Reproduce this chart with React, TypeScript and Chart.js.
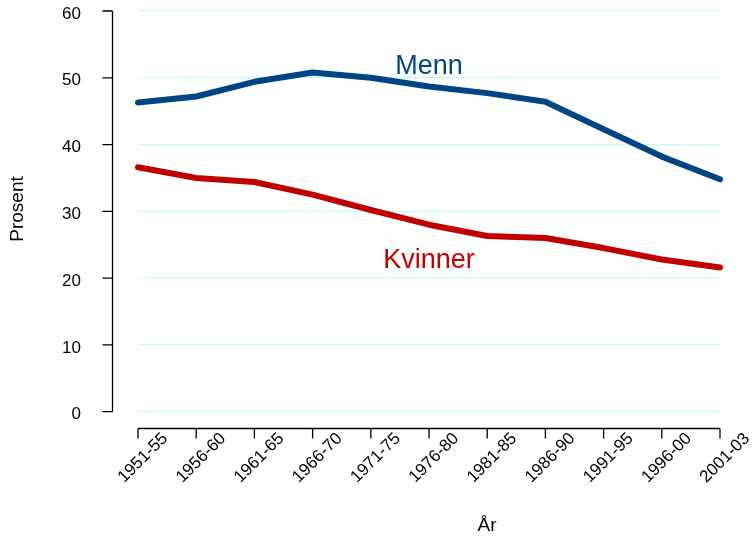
import React, { useEffect, useRef } from "react";
import { Chart, registerables } from "chart.js";

Chart.register(...registerables);

const categories = [
  "1951-55", "1956-60", "1961-65", "1966-70", "1971-75", "1976-80",
  "1981-85", "1986-90", "1991-95", "1996-00", "2001-03",
];
const menn = [46.3, 47.2, 49.4, 50.8, 50.0, 48.7, 47.7, 46.4, 42.3, 38.2, 34.8];
const kvinner = [36.6, 35.0, 34.4, 32.5, 30.2, 28.0, 26.3, 26.0, 24.5, 22.8, 21.6];
const yTicks = [0, 10, 20, 30, 40, 50, 60];
const seriesLabels = ["Menn", "Kvinner"];
const labelAnchors = [
  { index: 5, value: 50.5 },
  { index: 5, value: 21.5 },
];

const FONT = '"Liberation Sans", Arial, Helvetica, sans-serif';
const BLUE = "#004484";
const RED = "#c00000";

const axesPlugin = {
  id: "rAxes",
  afterDraw(chart: any) {
    const { ctx, chartArea, scales } = chart;
    const xs = scales.x;
    const ys = scales.y;
    ctx.save();
    ctx.strokeStyle = "#000";
    ctx.lineWidth = 1.3;
    // y axis spine offset to the left
    const ax = Math.round(chartArea.left - 26) + 0.5;
    const y0 = ys.getPixelForValue(yTicks[0]);
    const y1 = ys.getPixelForValue(yTicks[yTicks.length - 1]);
    ctx.beginPath();
    ctx.moveTo(ax, y0);
    ctx.lineTo(ax, y1);
    yTicks.forEach((v) => {
      const p = ys.getPixelForValue(v);
      ctx.moveTo(ax, p);
      ctx.lineTo(ax - 10, p);
    });
    ctx.stroke();
    // x axis spine offset below
    const ay = Math.round(chartArea.bottom + 16) + 0.5;
    const x0 = xs.getPixelForValue(0);
    const x1 = xs.getPixelForValue(categories.length - 1);
    ctx.beginPath();
    ctx.moveTo(x0, ay);
    ctx.lineTo(x1, ay);
    categories.forEach((_, i) => {
      const p = xs.getPixelForValue(i);
      ctx.moveTo(p, ay);
      ctx.lineTo(p, ay + 10);
    });
    ctx.stroke();

    // series labels
    ctx.font = `27px ${FONT}`;
    ctx.textAlign = "center";
    ctx.textBaseline = "alphabetic";
    seriesLabels.forEach((t, i) => {
      ctx.fillStyle = i === 0 ? BLUE : RED;
      ctx.fillText(
        t,
        xs.getPixelForValue(labelAnchors[i].index),
        ys.getPixelForValue(labelAnchors[i].value)
      );
    });

    // axis titles
    ctx.fillStyle = "#000";
    ctx.font = `19px ${FONT}`;
    ctx.textAlign = "center";
    ctx.textBaseline = "alphabetic";
    ctx.fillText("År", 487, 531);
    ctx.save();
    ctx.translate(23, 209);
    ctx.rotate(-Math.PI / 2);
    ctx.fillText("Prosent", 0, 0);
    ctx.restore();
    ctx.restore();
  },
};

export default function App() {
  const ref = useRef<HTMLCanvasElement | null>(null);
  useEffect(() => {
    if (!ref.current) return;
    const chart = new Chart(ref.current, {
      type: "line",
      data: {
        labels: categories,
        datasets: [
          {
            label: seriesLabels[0],
            data: menn,
            borderColor: BLUE,
            borderWidth: 6,
            borderCapStyle: "round",
            borderJoinStyle: "round",
            pointRadius: 0,
            tension: 0,
            fill: false,
          },
          {
            label: seriesLabels[1],
            data: kvinner,
            borderColor: RED,
            borderWidth: 6,
            borderCapStyle: "round",
            borderJoinStyle: "round",
            pointRadius: 0,
            tension: 0,
            fill: false,
          },
        ],
      },
      options: {
        animation: false,
        responsive: true,
        maintainAspectRatio: false,
        layout: { padding: { top: 11, right: 33, left: 0, bottom: 0 } },
        plugins: {
          legend: { display: false },
          tooltip: { enabled: false },
          title: { display: false },
        },
        scales: {
          x: {
            type: "category",
            offset: false,
            border: { display: false },
            grid: { display: false, drawTicks: false },
            ticks: {
              autoSkip: false,
              minRotation: 45,
              maxRotation: 45,
              labelOffset: 27,
              padding: 17,
              color: "#000",
              font: { family: FONT, size: 17 },
            },
            afterFit: (scale: any) => {
              scale.height = 127.3;
              scale.paddingLeft = 0;
              scale.paddingRight = 0;
            },
          },
          y: {
            min: 0,
            max: 60,
            border: { display: false },
            grid: { color: "#c4fafa", lineWidth: 1.3, drawTicks: false },
            ticks: {
              stepSize: 10,
              padding: 57,
              labelOffset: 3,
              color: "#000",
              font: { family: FONT, size: 17 },
            },
            afterFit: (scale: any) => {
              scale.width = 138;
              scale.paddingTop = 0;
              scale.paddingBottom = 0;
            },
          },
        },
      },
      plugins: [axesPlugin],
    });
    return () => chart.destroy();
  }, []);
  return (
    <div style={{ position: "fixed", left: 0, top: 0, width: 753, height: 539, background: "#fff" }}>
      <canvas ref={ref} />
    </div>
  );
}
